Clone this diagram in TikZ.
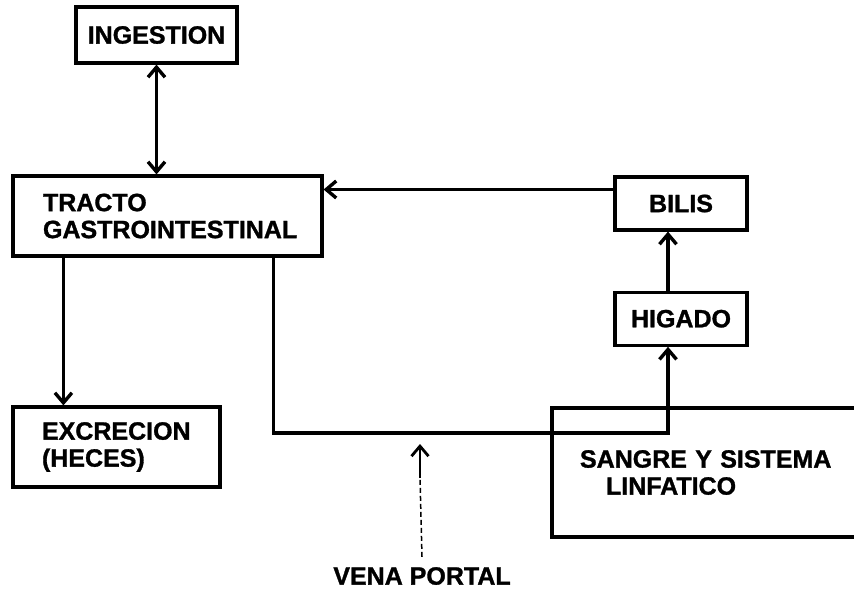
\documentclass[tikz,border=0pt]{standalone}
\usepackage{fontspec}
\setmainfont{Liberation Sans}[BoldFeatures={FakeBold=1.2}]
\usepackage{tikz}
\usetikzlibrary{arrows.meta, positioning}

\begin{document}
\begin{tikzpicture}[x=1pt, y=-1pt,
    font=\fontsize{25}{27}\selectfont\bfseries,
    >={Straight Barb[length=10pt, width=17pt]},
    box/.style={draw, line width=3.2pt, inner sep=0pt},
    link/.style={line width=3.4pt}]
  \useasboundingbox (0,0) rectangle (854,594);
  \clip (0,0) rectangle (854,594);
  % Boxes
  \node[box, minimum width=161pt, minimum height=56pt] (ing) at (156.5,35) {INGESTION};
  \node[box, minimum width=309pt, minimum height=80pt, text width=249pt, align=left]
    (tracto) at (167.5,216) {TRACTO\\GASTROINTESTINAL};
  \node[box, minimum width=207pt, minimum height=80pt, text width=149pt, align=left]
    (excr) at (116.5,447) {EXCRECION\\(HECES)};
  \node[box, minimum width=132pt, minimum height=53pt] (bilis) at (681,203.5) {BILIS};
  \node[box, minimum width=132pt, minimum height=53pt, below=59pt of bilis] (higado) {HIGADO};
  % Sangre (box runs off the right edge)
  \node[box, minimum width=348pt, minimum height=129pt, text width=292pt, align=left]
    (sangre) at (726,472.5) {SANGRE Y SISTEMA\\\hspace*{26pt}LINFATICO};
  % Vena portal
  \node[inner sep=0pt] (vena) at (422,576) {VENA PORTAL};
  \coordinate (portal) at (420,433);
  \coordinate (tip) at ([yshift=-11pt]portal);
  \coordinate (solid) at ([yshift=-45pt]portal);
  % Connectors
  \draw[link, <->] (ing.south) -- (ing.south |- tracto.north);
  \draw[link, ->] ([xshift=52pt]tracto.south west) -- ([xshift=52pt]excr.north west);
  \draw[link, ->] ([yshift=14pt]bilis.west) -- ([yshift=14pt]bilis.west -| tracto.east);
  \draw[link, ->] ([xshift=-13pt]higado.north) -- ([xshift=-13pt]bilis.south);
  \draw[link, ->] ([xshift=-50pt]tracto.south east) |- (portal) -| ([xshift=-13pt]higado.south);
  \draw[line width=1.5pt, dash pattern=on 5pt off 3pt] ([yshift=10pt]vena.north) -- (solid);
  \draw[link, line width=2.8pt, ->] (solid) -- (tip);
\end{tikzpicture}
\end{document}
